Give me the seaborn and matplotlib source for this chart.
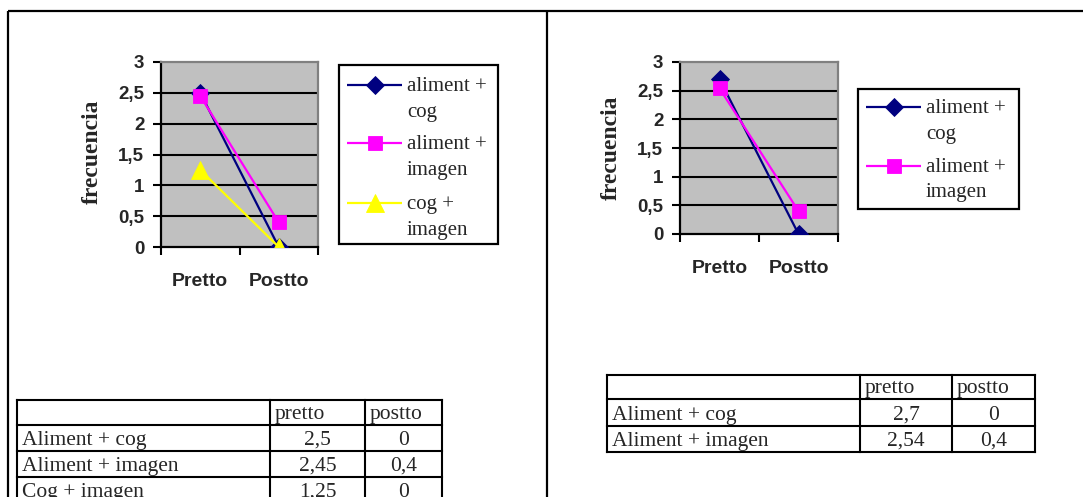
import matplotlib
matplotlib.use("Agg")
import matplotlib.pyplot as plt
import seaborn as sns

# ---- data -------------------------------------------------------------
momentos = ["Pretto", "Postto"]
encabezado = ["", "pretto", "postto"]
y_ticks = [0, 0.5, 1, 1.5, 2, 2.5, 3]

series_izq = ["aliment + cog", "aliment + imagen", "cog + imagen"]
filas_izq = ["Aliment + cog", "Aliment + imagen", "Cog + imagen"]
aliment_cog_izq = [2.5, 0]
aliment_imagen_izq = [2.45, 0.4]
cog_imagen_izq = [1.25, 0]

series_der = ["aliment + cog", "aliment + imagen"]
filas_der = ["Aliment + cog", "Aliment + imagen"]
aliment_cog_der = [2.7, 0]
aliment_imagen_der = [2.54, 0.4]

# ---- style ------------------------------------------------------------
sns.set_style("ticks")
plt.rcParams["font.family"] = ["Liberation Sans", "DejaVu Sans"]
SERIF = ["Liberation Serif", "DejaVu Serif"]

estilos = {
    "aliment + cog": dict(color="#000080", marker="D", ms=9),
    "aliment + imagen": dict(color="#FF00FF", marker="s", ms=10.5),
    "cog + imagen": dict(color="#FFFF00", marker="^", ms=12.5),
}

W, H = 1083, 497
fig = plt.figure(figsize=(W / 100, H / 100), dpi=100)
fig.patch.set_facecolor("white")


def px_axes(x0, y0, x1, y1, **kw):
    return fig.add_axes([x0 / W, 1 - y1 / H, (x1 - x0) / W, (y1 - y0) / H], **kw)


def fmt(v):
    return f"{v:g}".replace(".", ",")


# overlay in pixel coordinates for frame, legends and tables
ov = px_axes(0, 0, W, H, zorder=5)
ov.set_xlim(0, W)
ov.set_ylim(H, 0)
ov.axis("off")
ov.patch.set_alpha(0)

# page frame
ov.plot([8, W], [11, 11], color="black", lw=1.6, solid_capstyle="butt")
ov.plot([8, 8], [11, H], color="black", lw=1.6, solid_capstyle="butt")
ov.plot([546.5, 546.5], [11, H], color="black", lw=1.6, solid_capstyle="butt")


def panel(box, series, valores, ylab_xy, ley_box, ley_rows, tabla_cols, tabla_rows, filas):
    ax = px_axes(*box)
    ax.set_facecolor("#C0C0C0")
    for nombre, vals in zip(series, valores):
        st = estilos[nombre]
        sns.lineplot(x=momentos, y=vals, ax=ax, color=st["color"], marker=st["marker"],
                     markersize=st["ms"], markeredgecolor=st["color"], markeredgewidth=0.6,
                     linewidth=1.6, sort=False, legend=False, zorder=3)
    ax.set_xlim(-0.5, 1.5)
    ax.set_ylim(y_ticks[0], y_ticks[-1])
    for y in y_ticks[1:-1]:
        ax.axhline(y, color="black", lw=1.5, zorder=1)
    ax.set_yticks(y_ticks)
    ax.set_yticklabels([fmt(v) for v in y_ticks], fontweight="bold")
    ax.tick_params(axis="y", direction="out", length=6, width=1.5, labelsize=13.5, pad=6,
                   color="black")
    ax.set_xticks([-0.5, 0.5, 1.5])
    ax.set_xticklabels(["", "", ""])
    ax.tick_params(axis="x", which="major", direction="out", length=6, width=1.5, color="black")
    ax.set_xticks([0, 1], minor=True)
    ax.set_xticklabels(momentos, minor=True, fontweight="bold")
    ax.tick_params(axis="x", which="minor", length=0, labelsize=14, pad=19)
    ax.set_xlabel("")
    ax.set_ylabel("")
    for s in ("left", "bottom"):
        ax.spines[s].set_color("black")
        ax.spines[s].set_linewidth(1.6)
    for s in ("top", "right"):
        ax.spines[s].set_color("#808080")
        ax.spines[s].set_linewidth(1.6)
        ax.spines[s].set_visible(True)

    ov.text(ylab_xy[0], ylab_xy[1], "frecuencia", rotation=90, ha="center", va="center",
            fontsize=17, fontweight="bold", family=SERIF)

    # legend box
    lx0, ly0, lx1, ly1 = ley_box
    ov.add_patch(plt.Rectangle((lx0, ly0), lx1 - lx0, ly1 - ly0, fill=False,
                               edgecolor="black", lw=1.6))
    for nombre, yc in zip(series, ley_rows):
        st = estilos[nombre]
        ov.plot([lx0 + 8, lx0 + 63], [yc, yc], color=st["color"], lw=1.6,
                solid_capstyle="butt")
        ov.plot([lx0 + 36], [yc], linestyle="none", marker=st["marker"], color=st["color"],
                ms=st["ms"], markeredgecolor=st["color"], markeredgewidth=0.6)
        for k, linea in enumerate(nombre.replace("+ ", "+\n").split("\n")):
            ov.text(lx0 + 68, yc + 6 + 25.5 * k, linea, ha="left", va="baseline",
                    fontsize=15, family=SERIF)

    # data table
    cx = tabla_cols
    ry = tabla_rows
    for y in ry:
        ov.plot([cx[0], cx[-1]], [y, y], color="black", lw=1.5, solid_capstyle="projecting")
    for x in cx:
        ov.plot([x, x], [ry[0], ry[-1]], color="black", lw=1.5, solid_capstyle="projecting")
    for j, h in enumerate(encabezado):
        ov.text(cx[j] + 5, ry[1] - 6, h, ha="left", va="baseline", fontsize=15.5, family=SERIF)
    for i, (fila, vals) in enumerate(zip(filas, valores)):
        base = ry[i + 2] - 6
        ov.text(cx[0] + 5, base, fila, ha="left", va="baseline", fontsize=15.5, family=SERIF)
        for j, v in enumerate(vals):
            ov.text((cx[j + 1] + cx[j + 2]) / 2, base, fmt(v), ha="center", va="baseline",
                    fontsize=15.5, family=SERIF)
    return ax


panel((161, 62, 318, 247), series_izq,
      [aliment_cog_izq, aliment_imagen_izq, cog_imagen_izq],
      (92, 152), (339, 65, 498, 244), [85, 143, 203],
      [17, 270, 365, 442], [400, 425, 451, 477, 503], filas_izq)

panel((680, 62, 838, 234), series_der,
      [aliment_cog_der, aliment_imagen_der],
      (611, 148), (858, 89, 1019, 209), [107, 166],
      [607, 860, 952, 1035], [375, 399, 426, 452], filas_der)

fig.savefig("out.png", dpi=100, facecolor="white")
